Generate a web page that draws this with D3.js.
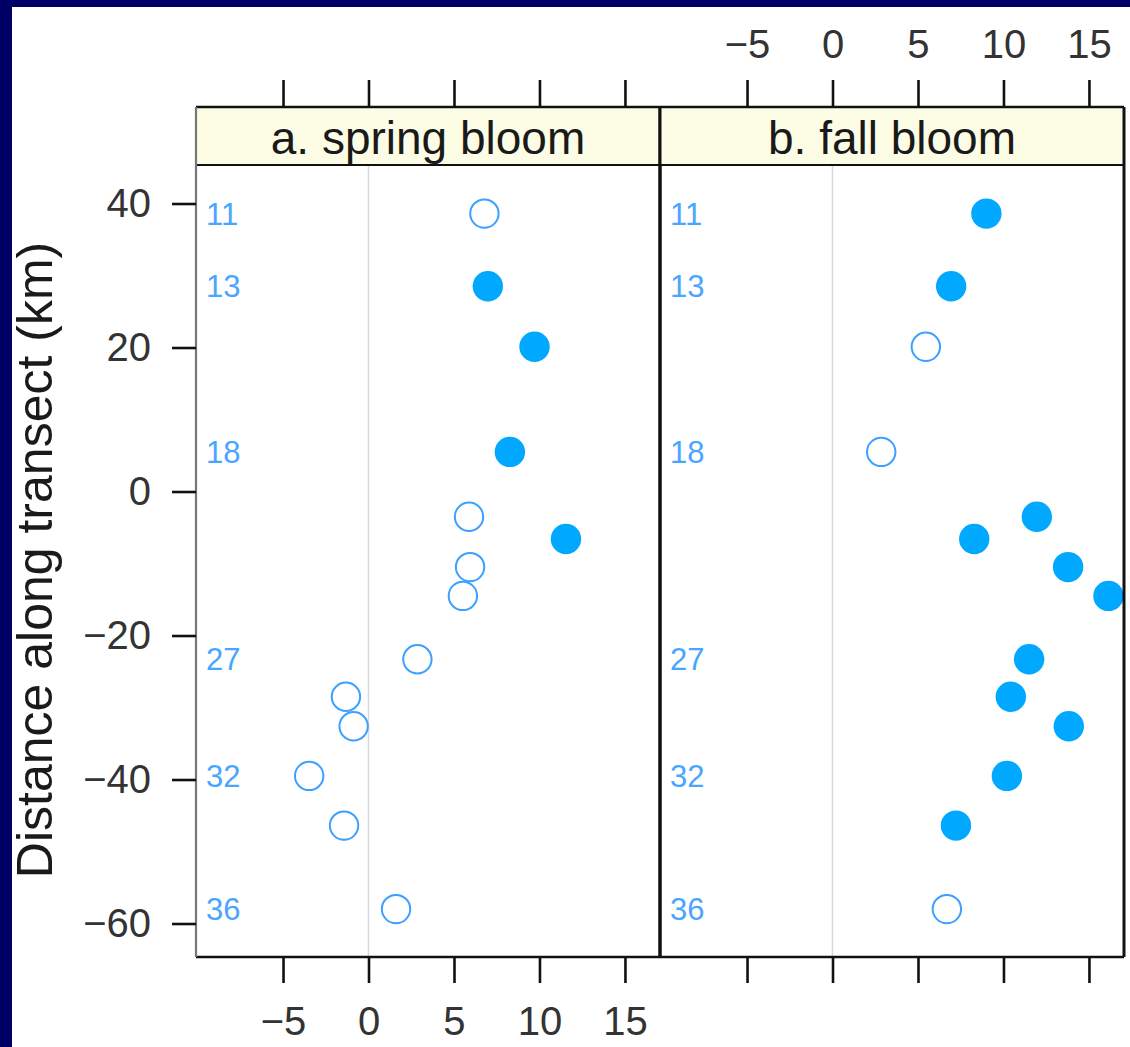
<!DOCTYPE html>
<html>
<head>
<meta charset="utf-8">
<script src="https://cdn.jsdelivr.net/npm/d3@7/dist/d3.min.js"></script>
<style>
  html, body { margin: 0; padding: 0; background: #ffffff; }
  svg { display: block; }
  text { font-family: "Liberation Sans", Arial, Helvetica, sans-serif; }
</style>
</head>
<body>
<div id="chart"></div>
<script>
// Distance of each sampling point along the transect (km), north to south
const distanceKm = [38.6, 28.5, 20.1, 5.5, -3.5, -6.6, -10.5, -14.5, -23.3, -28.5, -32.6, -39.5, -46.4, -58.0];

// Spring bloom values per sampling point, and whether the marker is solid
const springValues = [6.78, 6.98, 9.71, 8.27, 5.88, 11.55, 5.94, 5.52, 2.86, -1.32, -0.87, -3.47, -1.43, 1.61];
const springSolid  = [false, true, true, true, false, true, false, false, false, false, false, false, false, false];

// Fall bloom values per sampling point, and whether the marker is solid
const fallValues = [9.0, 6.94, 5.46, 2.85, 11.95, 8.29, 13.78, 16.14, 11.5, 10.43, 13.82, 10.2, 7.22, 6.69];
const fallSolid  = [true, true, false, false, true, true, true, true, true, true, true, true, true, false];

// Station numbers written inside each panel, at their distance along the transect
const stationNames = ["11", "13", "18", "27", "32", "36"];
const stationKm    = [38.6, 28.5, 5.5, -23.3, -39.5, -58.0];

// Panel titles and tick values
const panelTitles = ["a. spring bloom", "b. fall bloom"];
const xTickValues = [-5, 0, 5, 10, 15];
const yTickValues = [-60, -40, -20, 0, 20, 40];
const yAxisTitle = "Distance along transect (km)";

// ---- layout ----
const W = 1130, H = 1047;
const panelW = 464;
const panelLeft = [196, 660];
const stripTop = 107, stripBottom = 165, panelBottom = 957;
const navy = "#000064";
const solidBlue = "#00a9ff";
const ringBlue = "#3ba0ff";
const labelBlue = "#4aa5ff";

const x = d3.scaleLinear().domain([-10.09, 17.05]).range([0, panelW]);
const y = d3.scaleLinear().domain([45.35, -64.65]).range([stripBottom, panelBottom]);

const svg = d3.select("#chart").append("svg")
  .attr("width", W).attr("height", H)
  .attr("viewBox", `0 0 ${W} ${H}`);

// slide frame
svg.append("rect").attr("x", 0).attr("y", 0).attr("width", W).attr("height", H).attr("fill", "#ffffff");
svg.append("rect").attr("x", 0).attr("y", 0).attr("width", W).attr("height", 7).attr("fill", navy);
svg.append("rect").attr("x", 0).attr("y", 0).attr("width", 12).attr("height", H).attr("fill", navy);

const panels = [
  { title: panelTitles[0], values: springValues, solid: springSolid },
  { title: panelTitles[1], values: fallValues, solid: fallSolid }
];

const fmt = d3.format("");

function styleAxis(g) {
  g.select(".domain").remove();
  g.selectAll(".tick line").attr("stroke", "#111").attr("stroke-width", 2.6);
  g.selectAll(".tick text")
    .attr("fill", "#333")
    .style("font-size", "40px")
    .style("font-family", "'Liberation Sans', Arial, sans-serif");
}

panels.forEach((p, i) => {
  const g = svg.append("g").attr("transform", `translate(${panelLeft[i]},0)`);

  // strip
  g.append("rect")
    .attr("x", 0).attr("y", stripTop)
    .attr("width", panelW).attr("height", stripBottom - stripTop)
    .attr("fill", "#fdfde6");
  g.append("text")
    .attr("x", panelW / 2).attr("y", 154)
    .attr("text-anchor", "middle")
    .attr("fill", "#1a1a1a")
    .style("font-size", "46px")
    .text(p.title);

  // zero reference line
  g.append("line")
    .attr("x1", x(0)).attr("x2", x(0))
    .attr("y1", stripBottom).attr("y2", panelBottom)
    .attr("stroke", "#d8d8e6").attr("stroke-width", 1.6);

  // station numbers
  g.selectAll("text.station")
    .data(stationNames)
    .join("text")
    .attr("class", "station")
    .attr("x", 10)
    .attr("y", (d, k) => y(stationKm[k]))
    .attr("dy", "0.36em")
    .attr("fill", labelBlue)
    .style("font-size", "31px")
    .text(d => d);

  // markers
  const pts = p.values.map((v, k) => ({ v, km: distanceKm[k], solid: p.solid[k] }));
  g.selectAll("circle.pt")
    .data(pts)
    .join("circle")
    .attr("class", "pt")
    .attr("cx", d => x(d.v))
    .attr("cy", d => y(d.km))
    .attr("r", d => d.solid ? 15.2 : 14.2)
    .attr("fill", d => d.solid ? solidBlue : "none")
    .attr("stroke", d => d.solid ? "none" : ringBlue)
    .attr("stroke-width", 2);

  // top ticks (labels only over the right panel)
  const top = g.append("g").attr("transform", `translate(0,${stripTop})`)
    .call(d3.axisTop(x).tickValues(xTickValues).tickSize(27).tickPadding(22)
      .tickFormat(i === 1 ? fmt : () => ""));
  styleAxis(top);

  // bottom ticks (labels only under the left panel)
  const bottom = g.append("g").attr("transform", `translate(0,${panelBottom})`)
    .call(d3.axisBottom(x).tickValues(xTickValues).tickSize(26).tickPadding(24)
      .tickFormat(i === 0 ? fmt : () => ""));
  styleAxis(bottom);

  // panel + strip frame
  g.append("line").attr("x1", 0).attr("x2", panelW).attr("y1", stripTop).attr("y2", stripTop)
    .attr("stroke", "#111").attr("stroke-width", 2.6);
  g.append("line").attr("x1", 0).attr("x2", panelW).attr("y1", stripBottom).attr("y2", stripBottom)
    .attr("stroke", "#111").attr("stroke-width", 2.2);
  g.append("line").attr("x1", 0).attr("x2", panelW).attr("y1", panelBottom).attr("y2", panelBottom)
    .attr("stroke", "#111").attr("stroke-width", 2.6);
  g.append("line").attr("x1", 0).attr("x2", 0).attr("y1", stripTop).attr("y2", panelBottom)
    .attr("stroke", i === 0 ? "#777" : "#111").attr("stroke-width", i === 0 ? 2.2 : 3);
  g.append("line").attr("x1", panelW).attr("x2", panelW).attr("y1", stripTop).attr("y2", panelBottom)
    .attr("stroke", "#111").attr("stroke-width", 3);
});

// y axis on the left panel
const left = svg.append("g").attr("transform", `translate(${panelLeft[0]},0)`)
  .call(d3.axisLeft(y).tickValues(yTickValues).tickSize(24).tickPadding(21).tickFormat(fmt));
styleAxis(left);
left.selectAll(".tick text").attr("dy", "0.33em");

// y axis title
svg.append("text")
  .attr("transform", "translate(52,560) rotate(-90)")
  .attr("text-anchor", "middle")
  .attr("fill", "#1a1a1a")
  .style("font-size", "50px")
  .text(yAxisTitle);
</script>
</body>
</html>
